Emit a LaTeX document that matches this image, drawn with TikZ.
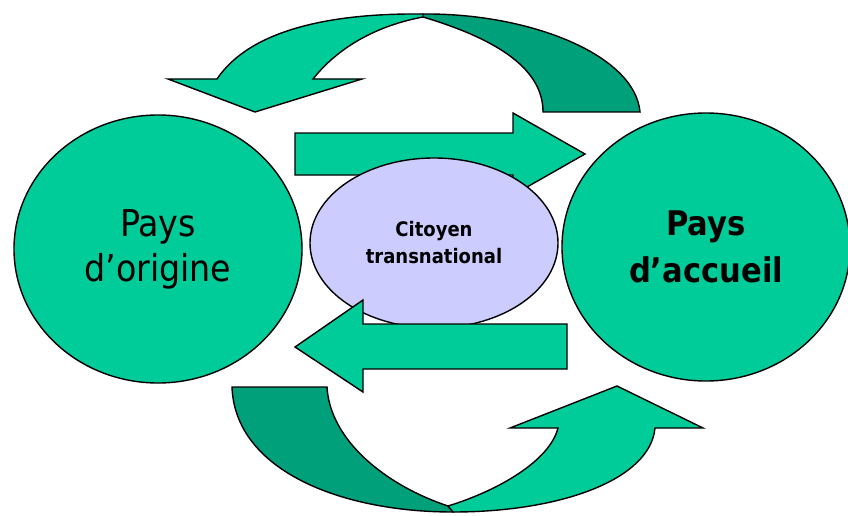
\documentclass[tikz,border=0pt]{standalone}
\usepackage{fontspec}
\setmainfont{DejaVu Sans Condensed}
\usetikzlibrary{shapes.geometric}
\definecolor{vert}{RGB}{0,204,153}
\definecolor{vertfonce}{RGB}{0,160,122}
\definecolor{lavande}{RGB}{204,204,255}
\tikzstyle{pays}=[ellipse,draw,fill=vert,line width=1.4pt,minimum width=288pt,minimum height=268pt,align=center,inner sep=0pt]
\tikzstyle{fleche}=[draw,fill=vert,line width=1.4pt,line join=miter]
\tikzstyle{revers}=[draw,fill=vertfonce,line width=1.4pt,line join=miter]

\begin{document}
\begin{tikzpicture}[x=1pt,y=-1pt]
  \useasboundingbox (0,0) rectangle (848,516);
  \node[pays, font=\fontsize{37}{45}\selectfont] (orig) at (158,249) {Pays\\d’origine};
  \node[pays, font=\bfseries\fontsize{34}{47}\selectfont] (acc) at (706,247) {Pays\\d’accueil};
  \draw[fleche] (295,133) -- (513,133) -- (513,113) -- (585,154) -- (513,195) -- (513,175) -- (295,175) -- cycle;
  \node[ellipse, draw, fill=lavande, line width=1.4pt, minimum width=248pt, minimum height=170pt,
        align=center, font=\bfseries\fontsize{20}{27}\selectfont] (cit) at (434,243) {Citoyen\\transnational};
  \draw[fleche] (567,324) -- (363,324) -- (363,300) -- (295,347) -- (363,392) -- (363,369) -- (567,369) -- cycle;
  % boucle du haut
  \draw[revers] (423,14) .. controls (530,13) and (635,55) .. (640,112) -- (543,112)
     .. controls (543,70) and (500,40) .. (423,17) -- cycle;
  \draw[fleche] (423,14) .. controls (330,13) and (250,30) .. (217,79) -- (168,79) -- (255,112) -- (362,79) -- (313,79)
     .. controls (340,45) and (380,25) .. (423,17) -- cycle;
  % boucle du bas
  \draw[revers] (232,387) -- (327,387) .. controls (330,440) and (385,485) .. (448,506) -- (453,512)
     .. controls (340,512) and (235,470) .. (232,387) -- cycle;
  \draw[fleche] (453,512) .. controls (560,512) and (650,480) .. (655,428) -- (703,428) -- (617,386) -- (510,428) -- (558,428)
     .. controls (550,460) and (500,490) .. (448,506) -- cycle;
\end{tikzpicture}
\end{document}
